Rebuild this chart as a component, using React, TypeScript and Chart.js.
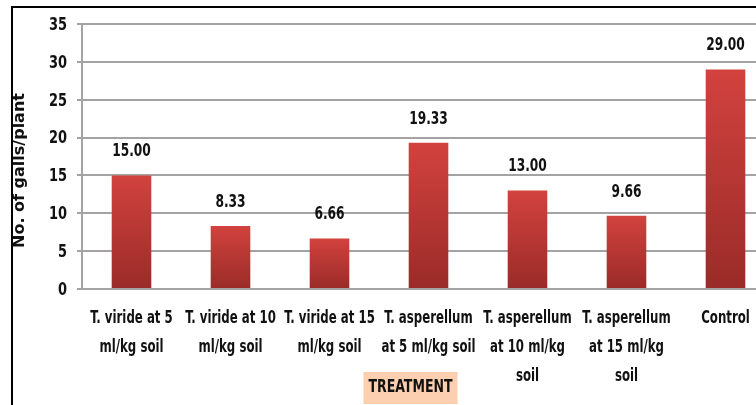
import React, { useEffect, useRef } from "react";
import { Chart, registerables } from "chart.js";

Chart.register(...registerables);

const categories: string[][] = [
  ["T. viride at 5", "ml/kg soil"],
  ["T. viride at 10", "ml/kg soil"],
  ["T. viride at 15", "ml/kg soil"],
  ["T. asperellum", "at 5 ml/kg soil"],
  ["T. asperellum", "at 10 ml/kg", "soil"],
  ["T. asperellum", "at 15 ml/kg", "soil"],
  ["Control"],
];
const gallsPerPlant: number[] = [15.0, 8.33, 6.66, 19.33, 13.0, 9.66, 29.0];
const yMin = 0;
const yMax = 35;
const yStep = 5;
const yTitle = "No. of galls/plant";
const xTitle = "TREATMENT";

const NARROW = '"Liberation Sans Narrow", "DejaVu Sans Condensed", "Arial Narrow", sans-serif';
const WIDE = '"DejaVu Sans", sans-serif';

function narrowText(ctx: CanvasRenderingContext2D, t: string, x: number, y: number, k: number) {
  const w = ctx.measureText(t).width;
  ctx.fillText(t, x, y, w * k);
}

const labelsPlugin = {
  id: "customLabels",
  afterDatasetsDraw(chart: any) {
    const ctx = chart.ctx;
    const meta = chart.getDatasetMeta(0);
    ctx.save();
    ctx.font = `bold 17px ${NARROW}`;
    ctx.fillStyle = "#111";
    ctx.textAlign = "center";
    ctx.textBaseline = "bottom";
    meta.data.forEach((el: any, i: number) => {
      const v = chart.data.datasets[0].data[i] as number;
      narrowText(ctx, v.toFixed(2), el.x, el.y - 15, 0.8);
    });
    ctx.restore();
  },
  afterDraw(chart: any) {
    const ctx = chart.ctx;
    const area = chart.chartArea;
    const xs = chart.scales.x;
    const ys = chart.scales.y;
    // x tick labels
    ctx.save();
    ctx.font = `bold 17px ${NARROW}`;
    ctx.fillStyle = "#111";
    ctx.textAlign = "center";
    ctx.textBaseline = "middle";
    categories.forEach((lines, i) => {
      const x = xs.getPixelForTick(i);
      lines.forEach((ln, j) => {
        narrowText(ctx, ln, x, area.bottom + 30 + j * 29, 0.77);
      });
    });
    ctx.restore();
    // y tick labels
    ctx.save();
    ctx.font = `bold 17px ${NARROW}`;
    ctx.fillStyle = "#111";
    ctx.textAlign = "right";
    ctx.textBaseline = "middle";
    ys.ticks.forEach((t: any) => {
      const y = ys.getPixelForValue(t.value);
      narrowText(ctx, String(t.value), area.left - 15, y + 1.5, 0.85);
    });
    ctx.restore();
    // y title
    ctx.save();
    ctx.translate(20, (area.top + area.bottom) / 2 + 14);
    ctx.rotate(-Math.PI / 2);
    ctx.font = `bold 16px ${WIDE}`;
    ctx.fillStyle = "#111";
    ctx.textAlign = "center";
    ctx.textBaseline = "middle";
    const tw = ctx.measureText(yTitle).width;
    ctx.fillText(yTitle, 0, 0, Math.min(tw, 164));
    ctx.restore();
    // x title with background
    ctx.save();
    ctx.font = `bold 17px ${NARROW}`;
    const w = ctx.measureText(xTitle).width * 0.82;
    const cx = area.left + 328.5;
    const cy = area.bottom + 99;
    ctx.fillStyle = "#fbcfb0";
    ctx.fillRect(cx - w / 2 - 5, cy - 16, w + 10, 32);
    ctx.fillStyle = "#111";
    ctx.textAlign = "center";
    ctx.textBaseline = "middle";
    ctx.fillText(xTitle, cx, cy, w);
    ctx.restore();
  },
};

export default function App() {
  const ref = useRef<HTMLCanvasElement | null>(null);
  useEffect(() => {
    if (!ref.current) return;
    const chart = new Chart(ref.current, {
      type: "bar",
      data: {
        labels: categories,
        datasets: [
          {
            data: gallsPerPlant,
            backgroundColor: (c: any) => {
              const ch = c.chart;
              const ys = ch.scales && ch.scales.y;
              if (!ys || c.type !== "data") return "#c23a36";
              const top = ys.getPixelForValue(c.raw);
              const bot = ys.getPixelForValue(0);
              if (!isFinite(top) || !isFinite(bot) || top === bot) return "#c23a36";
              const g = ch.ctx.createLinearGradient(0, top, 0, bot);
              g.addColorStop(0, "#d2423e");
              g.addColorStop(1, "#9a2b28");
              return g;
            },
            borderWidth: 0,
            categoryPercentage: 1,
            barPercentage: 0.4,
          },
        ],
      },
      options: {
        responsive: false,
        animation: false,
        maintainAspectRatio: false,
        layout: { padding: { left: 0, right: 15, top: 24, bottom: 0 } },
        plugins: {
          legend: { display: false },
          tooltip: { enabled: false },
          title: { display: false },
        },
        scales: {
          x: {
            grid: { display: false },
            border: { display: false },
            ticks: {
              color: "rgba(0,0,0,0)",
              font: { family: NARROW, size: 17, weight: "bold", lineHeight: 1.65 },
              padding: 14,
              maxRotation: 0,
              autoSkip: false,
            },
            afterFit: (s: any) => {
              s.height = 116;
            },
          },
          y: {
            min: yMin,
            max: yMax,
            ticks: {
              stepSize: yStep,
              color: "rgba(0,0,0,0)",
              font: { family: NARROW, size: 17, weight: "bold" },
              padding: 9,
            },
            grid: { color: "#a3a3a3", lineWidth: 2, tickLength: 5 },
            border: { display: true, color: "#a3a3a3", width: 2 },
            afterFit: (s: any) => {
              s.width = 82;
            },
          },
        },
      },
      plugins: [labelsPlugin],
    });
    return () => chart.destroy();
  }, []);

  return (
    <div
      style={{
        position: "fixed",
        left: 0,
        top: 0,
        width: 756,
        height: 405,
        overflow: "hidden",
        background: "#fff",
      }}
    >
      <canvas ref={ref} width={790} height={405} style={{ position: "absolute", left: 0, top: 0 }} />
      <div
        style={{
          position: "absolute",
          left: 11,
          top: 6,
          width: 900,
          height: 600,
          borderLeft: "2px solid #000",
          borderTop: "2px solid #000",
          pointerEvents: "none",
        }}
      />
    </div>
  );
}
